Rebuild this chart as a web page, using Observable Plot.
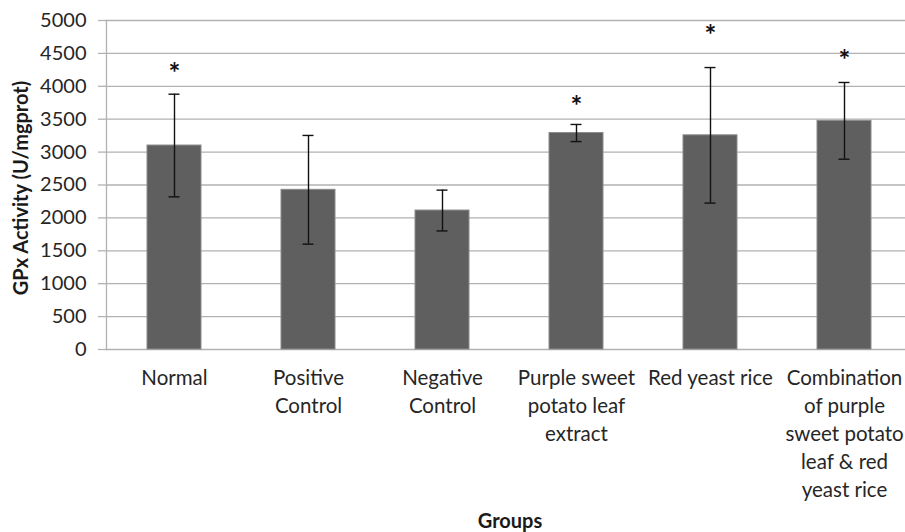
<!DOCTYPE html>
<html>
<head>
<meta charset="utf-8">
<script src="https://cdn.jsdelivr.net/npm/d3@7"></script>
<script src="https://cdn.jsdelivr.net/npm/@observablehq/plot@0.6"></script>
<style>
  html, body { margin: 0; padding: 0; background: #fff; }
  #chart svg { display: block; }
</style>
</head>
<body>
<div id="chart"></div>
<script>
const groups = [
  "Normal",
  "Positive\nControl",
  "Negative\nControl",
  "Purple sweet\npotato leaf\nextract",
  "Red yeast rice",
  "Combination\nof purple\nsweet potato\nleaf & red\nyeast rice"
];
const means = [3100, 2427, 2112, 3290, 3255, 3475];
const sds = [780, 826, 310, 130, 1030, 583];
const starValues = [4300, null, null, 3784, 4863, 4488];
const yTicks = [0, 500, 1000, 1500, 2000, 2500, 3000, 3500, 4000, 4500, 5000];
const yTitle = "GPx Activity (U/mgprot)";
const xTitle = "Groups";

const data = groups.map((g, i) => ({
  group: g, mean: means[i], lo: means[i] - sds[i], hi: means[i] + sds[i], star: starValues[i]
}));
const stars = data.filter(d => d.star != null);

const grid = "#b2b2b2";
const font = "Lato";

const chart = Plot.plot({
  width: 905,
  height: 532,
  marginLeft: 106,
  marginRight: 0,
  marginTop: 20,
  marginBottom: 183,
  style: { fontFamily: font, fontSize: "20px", color: "#262626", background: "#fff" },
  x: { domain: groups, range: [106, 912], paddingInner: 0.6, paddingOuter: 0.3, align: 0.5 },
  y: { domain: [0, 5000], range: [349, 20] },
  marks: [
    Plot.ruleY(yTicks, { stroke: grid, strokeWidth: 1.3 }),
    Plot.axisY(yTicks, { tickSize: 8, stroke: grid, strokeWidth: 1.3, text: null, label: null }),
    Plot.axisY(yTicks, { tickSize: 0, tickPadding: 20, fontSize: 20, label: null, fill: "#262626", tickFormat: d => String(d) }),
    Plot.frame({ anchor: "left", stroke: grid, strokeWidth: 1.3 }),
    Plot.barY(data, { x: "group", y: "mean", fill: "#5f5f5f", stroke: "#8c8c8c", strokeWidth: 1 }),
    Plot.ruleX(data, { x: "group", y1: "lo", y2: "hi", stroke: "#111", strokeWidth: 1.4 }),
    Plot.tickY(data, { x: "group", y: "lo", stroke: "#111", strokeWidth: 1.4, insetLeft: 21.5, insetRight: 21.5 }),
    Plot.tickY(data, { x: "group", y: "hi", stroke: "#111", strokeWidth: 1.4, insetLeft: 21.5, insetRight: 21.5 }),
    Plot.text(stars, { x: "group", y: "star", text: () => "*", fontSize: 28, fontWeight: "bold", fill: "#111", dy: 7 }),
    Plot.axisX({ tickSize: 0, tickPadding: 16, fontSize: 20.5, lineHeight: 1.36, lineAnchor: "top", label: null, fill: "#262626" }),
    Plot.text([yTitle], { frameAnchor: "left", textAnchor: "middle", rotate: -90, dx: -85, dy: 3, fontWeight: "bold", fontSize: 20, fill: "#1a1a1a" }),
    Plot.text([xTitle], { frameAnchor: "bottom", dy: 178, dx: 4, fontWeight: "bold", fontSize: 20, fill: "#1a1a1a" })
  ]
});
document.getElementById("chart").appendChild(chart);
</script>
</body>
</html>
